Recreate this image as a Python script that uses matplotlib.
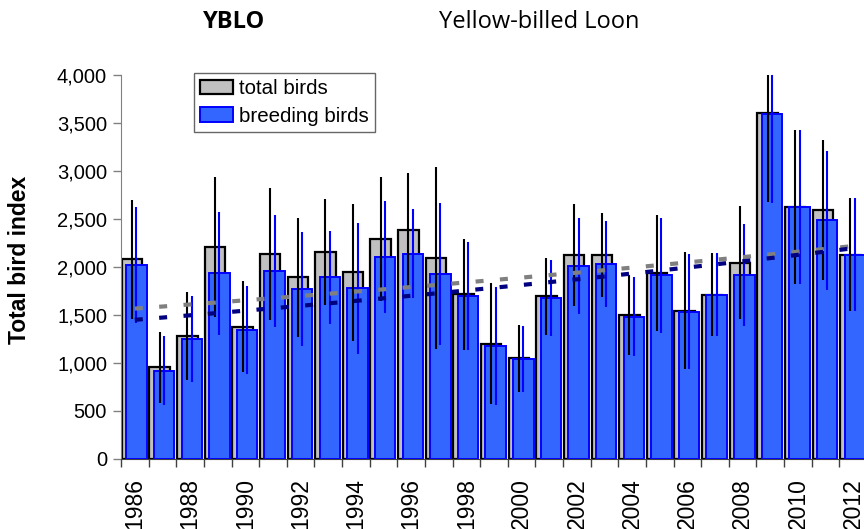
import matplotlib

matplotlib.use("Agg")
import matplotlib.pyplot as plt
import numpy as np
from matplotlib.patches import Rectangle
from matplotlib.legend_handler import HandlerPatch
from matplotlib.ticker import FixedLocator, FuncFormatter

years = np.arange(1986, 2013)
total_birds = [2078, 951, 1278, 2207, 1375, 2134, 1890, 2154, 1942, 2290,
               2381, 2095, 1713, 1195, 1045, 1692, 2123, 2123, 1497, 1932,
               1542, 1709, 2043, 3601, 2624, 2589, 2126]
total_err = [620, 372, 461, 733, 476, 688, 623, 551, 715, 647,
             597, 949, 579, 631, 350, 403, 528, 443, 414, 607,
             608, 431, 590, 928, 808, 730, 588]
breeding_birds = [2019, 916, 1247, 1932, 1341, 1956, 1765, 1890, 1776, 2102,
                  2137, 1925, 1692, 1170, 1035, 1671, 2008, 2029, 1480, 1911,
                  1532, 1709, 1914, 3594, 2624, 2485, 2126]
breeding_err = [605, 362, 452, 643, 461, 583, 595, 485, 682, 580,
                466, 741, 565, 615, 344, 396, 496, 445, 414, 597,
                598, 431, 532, 928, 808, 727, 588]
year_labels = [str(y) for y in range(1986, 2013, 2)]

FONT = ["Liberation Sans", "DejaVu Sans"]
plt.rcParams["font.family"] = FONT


def square_handle(legend, orig_handle, xdescent, ydescent, width, height,
                  fontsize):
    # small square swatch sitting at the right end of the handle box
    side = 0.66 * fontsize
    return Rectangle((width - side - xdescent, (height - side) / 2 - ydescent),
                     side, side)


fig = plt.figure(figsize=(8.64, 5.29), dpi=100)
ax = fig.add_axes([121 / 864, 1 - 458.5 / 529, 746 / 864, 383.4 / 529])

width = 0.74
x_total = years - 0.10
x_breed = years + 0.06
ax.bar(x_total, total_birds, width=width, color="#C0C0C0",
       edgecolor="black", linewidth=1.6, label="total birds", zorder=2)
ax.bar(x_breed, breeding_birds, width=width, color="#3366FF",
       edgecolor="#0000FF", linewidth=1.4, label="breeding birds", zorder=3)
ax.errorbar(x_total, total_birds, yerr=total_err, fmt="none",
            ecolor="black", elinewidth=1.5, capsize=0, zorder=4)
ax.errorbar(x_breed, breeding_birds, yerr=breeding_err, fmt="none",
            ecolor="#0000FF", elinewidth=1.5, capsize=0, zorder=4)

# exponential trendlines (least squares on log values), dashed
xs = np.linspace(years[0], years[-1], 200)
for series, colour in ((total_birds, "#808080"), (breeding_birds, "#000080")):
    b, a = np.polyfit(years, np.log(series), 1)
    ax.plot(xs, np.exp(a + b * xs), color=colour, linewidth=3,
            dashes=(1.92, 3.94), dash_capstyle="butt", zorder=5)

ax.set_xlim(1985.5, 2012.5)
ax.set_ylim(0, 4000)
ax.xaxis.set_major_locator(FixedLocator(years[::2]))
ax.set_xticklabels(year_labels, rotation=90, fontsize=16.5)
ax.xaxis.set_minor_locator(FixedLocator(np.arange(1985.5, 2013, 1)))
ax.tick_params(axis="x", which="major", length=0, pad=14)
ax.tick_params(axis="x", which="minor", length=6, width=1, color="#404040",
               direction="out")
ax.yaxis.set_major_locator(FixedLocator(np.arange(0, 4001, 500)))
ax.yaxis.set_major_formatter(FuncFormatter(lambda v, _: f"{v:,.0f}"))
ax.tick_params(axis="y", length=6, width=1, color="#808080", labelsize=14.5,
               pad=4)
for side in ("top", "right"):
    ax.spines[side].set_visible(False)
ax.spines["left"].set_color("#808080")
ax.spines["bottom"].set_color("#404040")

leg = ax.legend(loc="upper left", bbox_to_anchor=(0.098, 1.005),
                fontsize=14.8, frameon=True, fancybox=False,
                handlelength=1.6, handleheight=0.7, handletextpad=0.3,
                borderpad=0.3, labelspacing=0.4, borderaxespad=0,
                handler_map={Rectangle: HandlerPatch(patch_func=square_handle)})
leg.get_frame().set_edgecolor("#404040")
leg.get_frame().set_linewidth(1)

fig.text(20 / 864, 1 - 260 / 529, "Total bird index", rotation=90,
         fontsize=16.5, fontweight="bold", ha="center", va="center")
fig.text(234 / 864, 1 - 22 / 529, "YBLO", fontsize=17, fontweight="bold",
         ha="center", va="center", family=["Open Sans", "DejaVu Sans"])
fig.text(539 / 864, 1 - 22 / 529, "Yellow-billed Loon", fontsize=17,
         ha="center", va="center", family=["Open Sans", "DejaVu Sans"])

fig.savefig("out.png", dpi=100)
